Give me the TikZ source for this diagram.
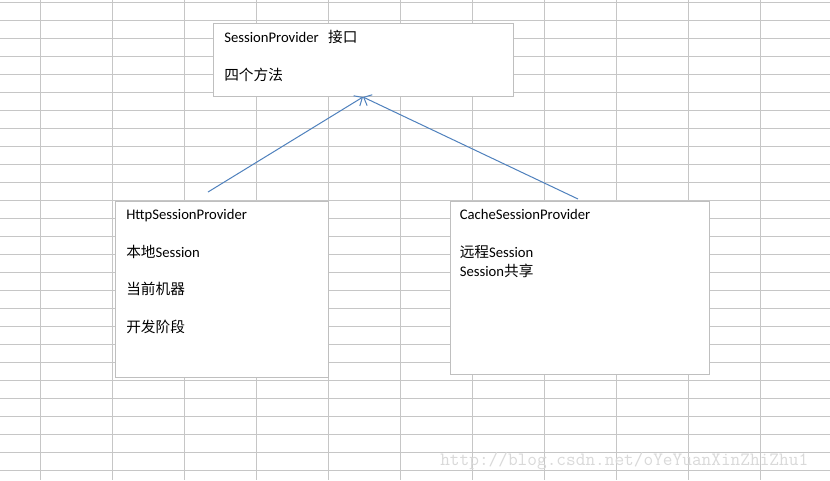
\documentclass[tikz,border=0pt]{standalone}
\usepackage{fontspec}
\setmainfont{Carlito}
\newfontfamily\cjk{Noto Sans CJK SC}
\usetikzlibrary{arrows.meta,calc}
\definecolor{gridgray}{RGB}{198,198,198}
\definecolor{boxgray}{RGB}{191,191,191}
\definecolor{linkblue}{RGB}{79,129,189}
\newcommand{\zh}[1]{{\cjk #1}}

\begin{document}
\begin{tikzpicture}[x=0.75pt,y=-0.75pt,
  cellline/.style={gridgray,line width=0.75pt},
  box/.style={draw=boxgray,fill=white,line width=0.75pt,anchor=north west,inner sep=0pt},
  txt/.style={anchor=base west,inner sep=0pt,font=\fontsize{11}{13}\selectfont},
  link/.style={linkblue,line width=0.75pt,-{Straight Barb[length=5pt,width=9pt]}},
  wmtext/.style={anchor=base west,inner sep=0pt,text=gray!30,font=\ttfamily\fontsize{14.1}{16}\selectfont}]
\useasboundingbox (0,0) rectangle (830,480);
\fill[white] (0,0) rectangle (830,480);
%\draw[help lines] (0,0) grid (830,480);
\foreach \x in {40,112,...,760}
  \draw[cellline] (\x,0) -- (\x,480);
\foreach \y in {2,20,...,470}
  \draw[cellline] (0,\y) -- (830,\y);
\node[box,minimum width=225pt,minimum height=54.75pt] (iface) at (213,23) {};
\node[box,minimum width=159.75pt,minimum height=132pt] (http) at (115,201) {};
\node[box,minimum width=194.25pt,minimum height=129.75pt] (cache) at (450,201) {};
\foreach \n/\x/\y/\t in {ifname/224/42.5/SessionProvider\hspace{7pt}\zh{接口}, ifdesc/224/80/\zh{四个方法},
    httpname/126/219/HttpSessionProvider, httplocal/126/257.5/\zh{本地}Session, httphost/126/294.5/\zh{当前机器}, httpdev/126/332.5/\zh{开发阶段},
    cachename/459.5/219/CacheSessionProvider, cacheremote/459.5/257.5/\zh{远程}Session, cacheshare/459.5/276/Session\zh{共享}}
  \node[txt] (\n) at (\x,\y) {\t};
\node[wmtext] (wm) at (440,465) {http://blog.csdn.net/oYeYuanXinZhiZhu1};
\draw[link] ($(http.north west)+(93,-9)$) -- ($(iface.south west)+(150,0)$);
\draw[link] ($(cache.north west)+(128,-2)$) -- ($(iface.south west)+(150,0)$);
\end{tikzpicture}
\end{document}
